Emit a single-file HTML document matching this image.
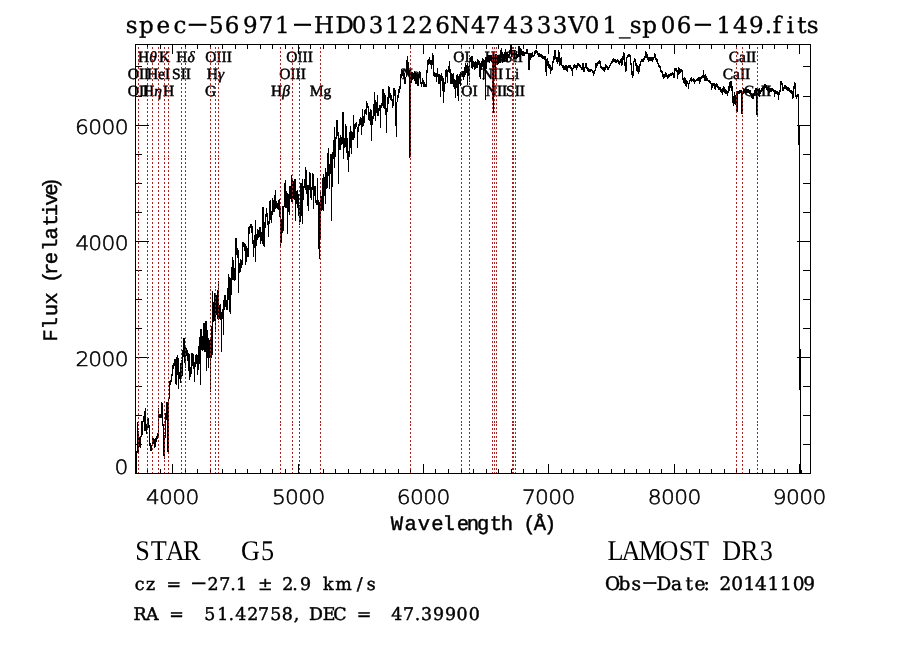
<!DOCTYPE html>
<html><head><meta charset="utf-8"><title>spec-56971-HD031226N474333V01_sp06-149.fits</title>
<style>html,body{margin:0;padding:0;background:#fff;width:900px;height:649px;overflow:hidden}svg{display:block}text{fill:#000}</style>
</head><body><svg width="900" height="649" viewBox="0 0 900 649" shape-rendering="crispEdges" text-rendering="geometricPrecision"><path d="M136 451h1v23h-1zM137 422h1v31h-1zM138 431h1v21h-1zM139 437h1v10h-1zM140 436h1v12h-1zM141 421h1v16h-1zM142 421h1v14h-1zM143 416h1v6h-1zM144 411h1v20h-1zM145 408h1v23h-1zM146 424h1v10h-1zM147 418h1v11h-1zM148 418h1v10h-1zM149 425h1v21h-1zM150 443h1v8h-1zM151 445h1v6h-1zM152 436h1v10h-1zM153 438h1v6h-1zM154 439h1v9h-1zM155 438h1v9h-1zM156 436h1v6h-1zM157 433h1v6h-1zM158 408h1v28h-1zM159 414h1v4h-1zM160 414h1v4h-1zM161 402h1v16h-1zM162 403h1v23h-1zM163 424h1v32h-1zM164 435h1v24h-1zM165 413h1v25h-1zM166 402h1v18h-1zM167 402h1v50h-1zM168 398h1v55h-1zM169 381h1v18h-1zM170 380h1v5h-1zM171 374h1v8h-1zM172 365h1v11h-1zM173 363h1v6h-1zM174 359h1v7h-1zM175 359h1v25h-1zM176 357h1v28h-1zM177 355h1v20h-1zM178 358h1v31h-1zM179 372h1v7h-1zM180 363h1v20h-1zM181 360h1v17h-1zM182 350h1v26h-1zM183 338h1v19h-1zM184 338h1v25h-1zM185 347h1v21h-1zM186 348h1v8h-1zM187 350h1v11h-1zM188 353h1v18h-1zM189 354h1v26h-1zM190 367h1v10h-1zM191 353h1v21h-1zM192 353h1v13h-1zM193 354h1v15h-1zM194 362h1v20h-1zM195 355h1v12h-1zM196 354h1v10h-1zM197 355h1v20h-1zM198 346h1v24h-1zM199 337h1v27h-1zM200 329h1v56h-1zM201 329h1v21h-1zM202 336h1v15h-1zM203 323h1v27h-1zM204 323h1v29h-1zM205 321h1v31h-1zM206 321h1v50h-1zM207 330h1v28h-1zM208 338h1v30h-1zM209 340h1v18h-1zM210 338h1v54h-1zM211 326h1v32h-1zM212 291h1v64h-1zM213 302h1v20h-1zM214 293h1v28h-1zM215 294h1v38h-1zM216 295h1v20h-1zM217 290h1v29h-1zM218 281h1v39h-1zM219 305h1v14h-1zM220 304h1v16h-1zM221 312h1v40h-1zM222 309h1v10h-1zM223 300h1v35h-1zM224 295h1v15h-1zM225 295h1v12h-1zM226 300h1v10h-1zM227 288h1v22h-1zM228 274h1v26h-1zM229 277h1v35h-1zM230 278h1v36h-1zM231 267h1v28h-1zM232 257h1v23h-1zM233 260h1v20h-1zM234 268h1v13h-1zM235 238h1v42h-1zM236 238h1v17h-1zM237 248h1v10h-1zM238 250h1v43h-1zM239 263h1v10h-1zM240 259h1v13h-1zM241 260h1v8h-1zM242 242h1v23h-1zM243 242h1v5h-1zM244 243h1v8h-1zM245 244h1v21h-1zM246 246h1v16h-1zM247 248h1v9h-1zM248 227h1v30h-1zM249 226h1v8h-1zM250 224h1v4h-1zM251 224h1v9h-1zM252 226h1v18h-1zM253 240h1v17h-1zM254 235h1v13h-1zM255 220h1v42h-1zM256 234h1v12h-1zM257 229h1v11h-1zM258 230h1v8h-1zM259 227h1v10h-1zM260 227h1v17h-1zM261 232h1v9h-1zM262 207h1v37h-1zM263 207h1v39h-1zM264 222h1v25h-1zM265 214h1v14h-1zM266 208h1v9h-1zM267 213h1v12h-1zM268 221h1v16h-1zM269 201h1v23h-1zM270 200h1v20h-1zM271 211h1v12h-1zM272 198h1v17h-1zM273 200h1v12h-1zM274 195h1v17h-1zM275 190h1v19h-1zM276 201h1v7h-1zM277 203h1v6h-1zM278 200h1v10h-1zM279 199h1v18h-1zM280 208h1v39h-1zM281 219h1v24h-1zM282 206h1v27h-1zM283 206h1v25h-1zM284 183h1v24h-1zM285 180h1v28h-1zM286 191h1v17h-1zM287 193h1v41h-1zM288 194h1v18h-1zM289 186h1v29h-1zM290 186h1v13h-1zM291 175h1v27h-1zM292 179h1v24h-1zM293 181h1v18h-1zM294 179h1v21h-1zM295 179h1v42h-1zM296 191h1v13h-1zM297 190h1v18h-1zM298 194h1v22h-1zM299 205h1v20h-1zM300 183h1v39h-1zM301 183h1v33h-1zM302 179h1v45h-1zM303 186h1v14h-1zM304 179h1v9h-1zM305 167h1v23h-1zM306 170h1v24h-1zM307 185h1v21h-1zM308 185h1v26h-1zM309 172h1v18h-1zM310 173h1v25h-1zM311 187h1v13h-1zM312 173h1v17h-1zM313 174h1v35h-1zM314 186h1v10h-1zM315 186h1v17h-1zM316 200h1v5h-1zM317 178h1v27h-1zM318 200h1v49h-1zM319 202h1v57h-1zM320 190h1v50h-1zM321 196h1v15h-1zM322 178h1v32h-1zM323 174h1v37h-1zM324 177h1v19h-1zM325 168h1v36h-1zM326 172h1v17h-1zM327 153h1v35h-1zM328 148h1v28h-1zM329 164h1v25h-1zM330 154h1v20h-1zM331 154h1v67h-1zM332 152h1v35h-1zM333 140h1v19h-1zM334 127h1v41h-1zM335 137h1v20h-1zM336 120h1v19h-1zM337 120h1v16h-1zM338 132h1v52h-1zM339 138h1v12h-1zM340 135h1v15h-1zM341 137h1v8h-1zM342 112h1v32h-1zM343 112h1v47h-1zM344 138h1v10h-1zM345 124h1v23h-1zM346 126h1v27h-1zM347 138h1v22h-1zM348 151h1v21h-1zM349 132h1v25h-1zM350 126h1v22h-1zM351 131h1v23h-1zM352 132h1v8h-1zM353 115h1v25h-1zM354 124h1v14h-1zM355 123h1v6h-1zM356 122h1v5h-1zM357 127h1v21h-1zM358 124h1v8h-1zM359 119h1v7h-1zM360 117h1v8h-1zM361 118h1v17h-1zM362 109h1v18h-1zM363 116h1v10h-1zM364 110h1v13h-1zM365 109h1v5h-1zM366 101h1v14h-1zM367 103h1v5h-1zM368 106h1v14h-1zM369 112h1v9h-1zM370 109h1v16h-1zM371 110h1v31h-1zM372 116h1v9h-1zM373 104h1v15h-1zM374 92h1v24h-1zM375 100h1v21h-1zM376 102h1v11h-1zM377 95h1v21h-1zM378 108h1v8h-1zM379 105h1v6h-1zM380 105h1v23h-1zM381 103h1v5h-1zM382 89h1v17h-1zM383 89h1v19h-1zM384 93h1v16h-1zM385 95h1v20h-1zM386 108h1v25h-1zM387 97h1v15h-1zM388 86h1v18h-1zM389 87h1v11h-1zM390 93h1v7h-1zM391 95h1v6h-1zM392 99h1v9h-1zM393 88h1v18h-1zM394 88h1v8h-1zM395 90h1v36h-1zM396 102h1v35h-1zM397 95h1v7h-1zM398 89h1v9h-1zM399 86h1v7h-1zM400 74h1v15h-1zM401 69h1v9h-1zM402 70h1v6h-1zM403 71h1v6h-1zM404 73h1v11h-1zM405 77h1v7h-1zM406 60h1v17h-1zM407 56h1v17h-1zM408 62h1v14h-1zM409 70h1v88h-1zM410 75h1v81h-1zM411 72h1v11h-1zM412 72h1v8h-1zM413 73h1v6h-1zM414 71h1v10h-1zM415 72h1v12h-1zM416 73h1v11h-1zM417 74h1v12h-1zM418 74h1v12h-1zM419 71h1v7h-1zM420 72h1v12h-1zM421 82h1v5h-1zM422 78h1v6h-1zM423 80h1v7h-1zM424 82h1v5h-1zM425 84h1v3h-1zM426 70h1v17h-1zM427 60h1v13h-1zM428 59h1v6h-1zM429 57h1v7h-1zM430 60h1v5h-1zM431 60h1v9h-1zM432 53h1v12h-1zM433 55h1v21h-1zM434 72h1v5h-1zM435 73h1v4h-1zM436 73h1v9h-1zM437 68h1v9h-1zM438 74h1v10h-1zM439 74h1v10h-1zM440 75h1v22h-1zM441 73h1v8h-1zM442 76h1v15h-1zM443 78h1v25h-1zM444 82h1v10h-1zM445 70h1v14h-1zM446 69h1v8h-1zM447 70h1v13h-1zM448 66h1v6h-1zM449 61h1v12h-1zM450 69h1v15h-1zM451 73h1v11h-1zM452 74h1v10h-1zM453 73h1v14h-1zM454 79h1v10h-1zM455 80h1v18h-1zM456 75h1v13h-1zM457 74h1v22h-1zM458 76h1v25h-1zM459 74h1v10h-1zM460 72h1v14h-1zM461 71h1v6h-1zM462 71h1v6h-1zM463 71h1v9h-1zM464 67h1v10h-1zM465 63h1v12h-1zM466 65h1v8h-1zM467 63h1v22h-1zM468 66h1v10h-1zM469 58h1v24h-1zM470 57h1v5h-1zM471 56h1v12h-1zM472 56h1v13h-1zM473 61h1v6h-1zM474 62h1v8h-1zM475 61h1v8h-1zM476 62h1v6h-1zM477 59h1v9h-1zM478 60h1v5h-1zM479 61h1v16h-1zM480 63h1v16h-1zM481 61h1v9h-1zM482 58h1v9h-1zM483 59h1v21h-1zM484 60h1v9h-1zM485 57h1v43h-1zM486 57h1v12h-1zM487 55h1v7h-1zM488 55h1v7h-1zM489 55h1v8h-1zM490 55h1v6h-1zM491 55h1v7h-1zM492 56h1v45h-1zM493 56h1v57h-1zM494 56h1v14h-1zM495 54h1v16h-1zM496 54h1v9h-1zM497 55h1v10h-1zM498 55h1v9h-1zM499 55h1v8h-1zM500 50h1v13h-1zM501 48h1v10h-1zM502 52h1v11h-1zM503 54h1v8h-1zM504 52h1v10h-1zM505 49h1v10h-1zM506 52h1v10h-1zM507 52h1v10h-1zM508 54h1v4h-1zM509 50h1v6h-1zM510 45h1v8h-1zM511 45h1v12h-1zM512 50h1v5h-1zM513 50h1v9h-1zM514 50h1v9h-1zM515 50h1v8h-1zM516 51h1v8h-1zM517 54h1v4h-1zM518 46h1v11h-1zM519 46h1v11h-1zM520 48h1v8h-1zM521 49h1v6h-1zM522 51h1v5h-1zM523 51h1v5h-1zM524 52h1v4h-1zM525 52h1v2h-1zM526 49h1v5h-1zM527 49h1v5h-1zM528 53h1v17h-1zM529 53h1v17h-1zM530 53h1v7h-1zM531 53h1v5h-1zM532 52h1v5h-1zM533 55h1v2h-1zM534 51h1v5h-1zM535 50h1v4h-1zM536 50h1v3h-1zM537 51h1v4h-1zM538 53h1v4h-1zM539 53h1v4h-1zM540 54h1v3h-1zM541 54h1v4h-1zM542 55h1v4h-1zM543 56h1v3h-1zM544 56h1v4h-1zM545 56h1v16h-1zM546 59h1v17h-1zM547 58h1v8h-1zM548 61h1v7h-1zM549 64h1v5h-1zM550 65h1v9h-1zM551 67h1v4h-1zM552 61h1v9h-1zM553 56h1v7h-1zM554 50h1v10h-1zM555 50h1v9h-1zM556 57h1v5h-1zM557 57h1v7h-1zM558 50h1v12h-1zM559 52h1v14h-1zM560 58h1v7h-1zM561 57h1v9h-1zM562 65h1v3h-1zM563 65h1v5h-1zM564 66h1v4h-1zM565 65h1v5h-1zM566 65h1v6h-1zM567 66h1v6h-1zM568 65h1v3h-1zM569 65h1v3h-1zM570 65h1v4h-1zM571 67h1v4h-1zM572 68h1v8h-1zM573 65h1v4h-1zM574 64h1v4h-1zM575 65h1v3h-1zM576 65h1v5h-1zM577 63h1v5h-1zM578 63h1v3h-1zM579 64h1v3h-1zM580 65h1v3h-1zM581 67h1v3h-1zM582 63h1v7h-1zM583 63h1v9h-1zM584 67h1v5h-1zM585 63h1v5h-1zM586 63h1v6h-1zM587 67h1v4h-1zM588 68h1v4h-1zM589 69h1v3h-1zM590 69h1v3h-1zM591 69h1v2h-1zM592 70h1v3h-1zM593 71h1v5h-1zM594 70h1v4h-1zM595 63h1v8h-1zM596 63h1v5h-1zM597 62h1v4h-1zM598 61h1v3h-1zM599 60h1v4h-1zM600 61h1v7h-1zM601 66h1v3h-1zM602 67h1v3h-1zM603 67h1v4h-1zM604 67h1v5h-1zM605 64h1v6h-1zM606 65h1v3h-1zM607 66h1v4h-1zM608 67h1v3h-1zM609 65h1v3h-1zM610 63h1v3h-1zM611 61h1v3h-1zM612 59h1v4h-1zM613 58h1v4h-1zM614 59h1v3h-1zM615 59h1v4h-1zM616 60h1v3h-1zM617 59h1v3h-1zM618 60h1v4h-1zM619 61h1v4h-1zM620 59h1v4h-1zM621 58h1v8h-1zM622 56h1v9h-1zM623 52h1v8h-1zM624 53h1v13h-1zM625 62h1v10h-1zM626 57h1v14h-1zM627 55h1v3h-1zM628 54h1v3h-1zM629 54h1v3h-1zM630 55h1v10h-1zM631 63h1v12h-1zM632 71h1v7h-1zM633 61h1v15h-1zM634 58h1v4h-1zM635 59h1v7h-1zM636 63h1v8h-1zM637 65h1v7h-1zM638 66h1v8h-1zM639 64h1v8h-1zM640 61h1v5h-1zM641 59h1v3h-1zM642 59h1v3h-1zM643 58h1v4h-1zM644 56h1v4h-1zM645 51h1v7h-1zM646 52h1v6h-1zM647 54h1v6h-1zM648 57h1v5h-1zM649 57h1v4h-1zM650 57h1v4h-1zM651 57h1v4h-1zM652 57h1v5h-1zM653 57h1v3h-1zM654 53h1v5h-1zM655 54h1v6h-1zM656 58h1v4h-1zM657 59h1v5h-1zM658 63h1v4h-1zM659 65h1v3h-1zM660 66h1v6h-1zM661 70h1v3h-1zM662 71h1v6h-1zM663 74h1v5h-1zM664 74h1v4h-1zM665 72h1v5h-1zM666 73h1v4h-1zM667 75h1v4h-1zM668 74h1v4h-1zM669 74h1v3h-1zM670 73h1v3h-1zM671 73h1v3h-1zM672 72h1v3h-1zM673 73h1v5h-1zM674 68h1v10h-1zM675 68h1v3h-1zM676 68h1v4h-1zM677 70h1v9h-1zM678 67h1v8h-1zM679 68h1v6h-1zM680 69h1v4h-1zM681 69h1v3h-1zM682 70h1v10h-1zM683 78h1v5h-1zM684 77h1v7h-1zM685 78h1v8h-1zM686 80h1v7h-1zM687 81h1v3h-1zM688 83h1v6h-1zM689 80h1v4h-1zM690 78h1v3h-1zM691 77h1v5h-1zM692 79h1v2h-1zM693 78h1v4h-1zM694 79h1v5h-1zM695 80h1v2h-1zM696 79h1v2h-1zM697 78h1v3h-1zM698 77h1v4h-1zM699 77h1v7h-1zM700 77h1v5h-1zM701 76h1v3h-1zM702 75h1v3h-1zM703 70h1v8h-1zM704 75h1v6h-1zM705 74h1v7h-1zM706 76h1v5h-1zM707 78h1v3h-1zM708 80h1v2h-1zM709 80h1v3h-1zM710 81h1v3h-1zM711 83h1v7h-1zM712 83h1v5h-1zM713 83h1v3h-1zM714 83h1v6h-1zM715 84h1v6h-1zM716 83h1v4h-1zM717 84h1v4h-1zM718 86h1v4h-1zM719 87h1v3h-1zM720 87h1v5h-1zM721 89h1v4h-1zM722 88h1v7h-1zM723 86h1v6h-1zM724 87h1v6h-1zM725 89h1v5h-1zM726 90h1v4h-1zM727 91h1v5h-1zM728 86h1v7h-1zM729 82h1v9h-1zM730 81h1v7h-1zM731 81h1v10h-1zM732 86h1v17h-1zM733 96h1v10h-1zM734 92h1v12h-1zM735 95h1v10h-1zM736 91h1v21h-1zM737 91h1v21h-1zM738 91h1v3h-1zM739 90h1v4h-1zM740 90h1v3h-1zM741 90h1v24h-1zM742 91h1v23h-1zM743 88h1v6h-1zM744 89h1v4h-1zM745 89h1v4h-1zM746 89h1v4h-1zM747 89h1v4h-1zM748 89h1v4h-1zM749 90h1v4h-1zM750 90h1v5h-1zM751 93h1v5h-1zM752 94h1v5h-1zM753 93h1v6h-1zM754 90h1v6h-1zM755 88h1v5h-1zM756 88h1v27h-1zM757 88h1v27h-1zM758 89h1v7h-1zM759 88h1v9h-1zM760 90h1v4h-1zM761 88h1v4h-1zM762 87h1v4h-1zM763 86h1v4h-1zM764 84h1v5h-1zM765 84h1v4h-1zM766 85h1v5h-1zM767 87h1v4h-1zM768 88h1v4h-1zM769 88h1v5h-1zM770 88h1v4h-1zM771 88h1v4h-1zM772 88h1v3h-1zM773 89h1v3h-1zM774 90h1v7h-1zM775 90h1v4h-1zM776 91h1v3h-1zM777 91h1v4h-1zM778 92h1v8h-1zM779 90h1v5h-1zM780 81h1v11h-1zM781 81h1v4h-1zM782 83h1v8h-1zM783 87h1v4h-1zM784 85h1v4h-1zM785 85h1v4h-1zM786 86h1v4h-1zM787 87h1v4h-1zM788 87h1v4h-1zM789 88h1v4h-1zM790 90h1v3h-1zM791 90h1v4h-1zM792 91h1v8h-1zM793 86h1v12h-1zM794 82h1v7h-1zM795 83h1v14h-1zM796 95h1v4h-1zM797 94h1v3h-1zM798 94h1v51h-1zM799 125h1v265h-1zM800 349h1v125h-1zM801 470h1v3h-1z" fill="#000"/><rect x="135" y="44" width="676" height="1" fill="#000"/><rect x="135" y="473" width="676" height="1" fill="#000"/><rect x="135" y="44" width="1" height="430" fill="#000"/><rect x="810" y="44" width="1" height="430" fill="#000"/><rect x="147" y="469" width="1" height="4" fill="#000"/><rect x="147" y="45" width="1" height="4" fill="#000"/><rect x="160" y="469" width="1" height="4" fill="#000"/><rect x="160" y="45" width="1" height="4" fill="#000"/><rect x="172" y="464" width="1" height="9" fill="#000"/><rect x="172" y="45" width="1" height="9" fill="#000"/><rect x="185" y="469" width="1" height="4" fill="#000"/><rect x="185" y="45" width="1" height="4" fill="#000"/><rect x="197" y="469" width="1" height="4" fill="#000"/><rect x="197" y="45" width="1" height="4" fill="#000"/><rect x="210" y="469" width="1" height="4" fill="#000"/><rect x="210" y="45" width="1" height="4" fill="#000"/><rect x="222" y="469" width="1" height="4" fill="#000"/><rect x="222" y="45" width="1" height="4" fill="#000"/><rect x="235" y="469" width="1" height="4" fill="#000"/><rect x="235" y="45" width="1" height="4" fill="#000"/><rect x="247" y="469" width="1" height="4" fill="#000"/><rect x="247" y="45" width="1" height="4" fill="#000"/><rect x="260" y="469" width="1" height="4" fill="#000"/><rect x="260" y="45" width="1" height="4" fill="#000"/><rect x="272" y="469" width="1" height="4" fill="#000"/><rect x="272" y="45" width="1" height="4" fill="#000"/><rect x="285" y="469" width="1" height="4" fill="#000"/><rect x="285" y="45" width="1" height="4" fill="#000"/><rect x="298" y="464" width="1" height="9" fill="#000"/><rect x="298" y="45" width="1" height="9" fill="#000"/><rect x="310" y="469" width="1" height="4" fill="#000"/><rect x="310" y="45" width="1" height="4" fill="#000"/><rect x="323" y="469" width="1" height="4" fill="#000"/><rect x="323" y="45" width="1" height="4" fill="#000"/><rect x="335" y="469" width="1" height="4" fill="#000"/><rect x="335" y="45" width="1" height="4" fill="#000"/><rect x="348" y="469" width="1" height="4" fill="#000"/><rect x="348" y="45" width="1" height="4" fill="#000"/><rect x="360" y="469" width="1" height="4" fill="#000"/><rect x="360" y="45" width="1" height="4" fill="#000"/><rect x="373" y="469" width="1" height="4" fill="#000"/><rect x="373" y="45" width="1" height="4" fill="#000"/><rect x="385" y="469" width="1" height="4" fill="#000"/><rect x="385" y="45" width="1" height="4" fill="#000"/><rect x="398" y="469" width="1" height="4" fill="#000"/><rect x="398" y="45" width="1" height="4" fill="#000"/><rect x="410" y="469" width="1" height="4" fill="#000"/><rect x="410" y="45" width="1" height="4" fill="#000"/><rect x="423" y="464" width="1" height="9" fill="#000"/><rect x="423" y="45" width="1" height="9" fill="#000"/><rect x="435" y="469" width="1" height="4" fill="#000"/><rect x="435" y="45" width="1" height="4" fill="#000"/><rect x="448" y="469" width="1" height="4" fill="#000"/><rect x="448" y="45" width="1" height="4" fill="#000"/><rect x="461" y="469" width="1" height="4" fill="#000"/><rect x="461" y="45" width="1" height="4" fill="#000"/><rect x="473" y="469" width="1" height="4" fill="#000"/><rect x="473" y="45" width="1" height="4" fill="#000"/><rect x="486" y="469" width="1" height="4" fill="#000"/><rect x="486" y="45" width="1" height="4" fill="#000"/><rect x="498" y="469" width="1" height="4" fill="#000"/><rect x="498" y="45" width="1" height="4" fill="#000"/><rect x="511" y="469" width="1" height="4" fill="#000"/><rect x="511" y="45" width="1" height="4" fill="#000"/><rect x="523" y="469" width="1" height="4" fill="#000"/><rect x="523" y="45" width="1" height="4" fill="#000"/><rect x="536" y="469" width="1" height="4" fill="#000"/><rect x="536" y="45" width="1" height="4" fill="#000"/><rect x="548" y="464" width="1" height="9" fill="#000"/><rect x="548" y="45" width="1" height="9" fill="#000"/><rect x="561" y="469" width="1" height="4" fill="#000"/><rect x="561" y="45" width="1" height="4" fill="#000"/><rect x="573" y="469" width="1" height="4" fill="#000"/><rect x="573" y="45" width="1" height="4" fill="#000"/><rect x="586" y="469" width="1" height="4" fill="#000"/><rect x="586" y="45" width="1" height="4" fill="#000"/><rect x="598" y="469" width="1" height="4" fill="#000"/><rect x="598" y="45" width="1" height="4" fill="#000"/><rect x="611" y="469" width="1" height="4" fill="#000"/><rect x="611" y="45" width="1" height="4" fill="#000"/><rect x="624" y="469" width="1" height="4" fill="#000"/><rect x="624" y="45" width="1" height="4" fill="#000"/><rect x="636" y="469" width="1" height="4" fill="#000"/><rect x="636" y="45" width="1" height="4" fill="#000"/><rect x="649" y="469" width="1" height="4" fill="#000"/><rect x="649" y="45" width="1" height="4" fill="#000"/><rect x="661" y="469" width="1" height="4" fill="#000"/><rect x="661" y="45" width="1" height="4" fill="#000"/><rect x="674" y="464" width="1" height="9" fill="#000"/><rect x="674" y="45" width="1" height="9" fill="#000"/><rect x="686" y="469" width="1" height="4" fill="#000"/><rect x="686" y="45" width="1" height="4" fill="#000"/><rect x="699" y="469" width="1" height="4" fill="#000"/><rect x="699" y="45" width="1" height="4" fill="#000"/><rect x="711" y="469" width="1" height="4" fill="#000"/><rect x="711" y="45" width="1" height="4" fill="#000"/><rect x="724" y="469" width="1" height="4" fill="#000"/><rect x="724" y="45" width="1" height="4" fill="#000"/><rect x="736" y="469" width="1" height="4" fill="#000"/><rect x="736" y="45" width="1" height="4" fill="#000"/><rect x="749" y="469" width="1" height="4" fill="#000"/><rect x="749" y="45" width="1" height="4" fill="#000"/><rect x="762" y="469" width="1" height="4" fill="#000"/><rect x="762" y="45" width="1" height="4" fill="#000"/><rect x="774" y="469" width="1" height="4" fill="#000"/><rect x="774" y="45" width="1" height="4" fill="#000"/><rect x="787" y="469" width="1" height="4" fill="#000"/><rect x="787" y="45" width="1" height="4" fill="#000"/><rect x="799" y="464" width="1" height="9" fill="#000"/><rect x="799" y="45" width="1" height="9" fill="#000"/><rect x="136" y="444" width="6" height="1" fill="#000"/><rect x="803" y="444" width="7" height="1" fill="#000"/><rect x="136" y="415" width="6" height="1" fill="#000"/><rect x="803" y="415" width="7" height="1" fill="#000"/><rect x="136" y="386" width="6" height="1" fill="#000"/><rect x="803" y="386" width="7" height="1" fill="#000"/><rect x="136" y="357" width="13" height="1" fill="#000"/><rect x="797" y="357" width="13" height="1" fill="#000"/><rect x="136" y="328" width="6" height="1" fill="#000"/><rect x="803" y="328" width="7" height="1" fill="#000"/><rect x="136" y="299" width="6" height="1" fill="#000"/><rect x="803" y="299" width="7" height="1" fill="#000"/><rect x="136" y="270" width="6" height="1" fill="#000"/><rect x="803" y="270" width="7" height="1" fill="#000"/><rect x="136" y="241" width="13" height="1" fill="#000"/><rect x="797" y="241" width="13" height="1" fill="#000"/><rect x="136" y="212" width="6" height="1" fill="#000"/><rect x="803" y="212" width="7" height="1" fill="#000"/><rect x="136" y="183" width="6" height="1" fill="#000"/><rect x="803" y="183" width="7" height="1" fill="#000"/><rect x="136" y="154" width="6" height="1" fill="#000"/><rect x="803" y="154" width="7" height="1" fill="#000"/><rect x="136" y="125" width="13" height="1" fill="#000"/><rect x="797" y="125" width="13" height="1" fill="#000"/><rect x="136" y="96" width="6" height="1" fill="#000"/><rect x="803" y="96" width="7" height="1" fill="#000"/><rect x="136" y="66" width="6" height="1" fill="#000"/><rect x="803" y="66" width="7" height="1" fill="#000"/><text x="132.83 144.55 156.55 168.55" y="504" font-family='"DejaVu Sans", sans-serif' font-size="19.8" font-weight="200" transform="scale(1.1 1)" stroke="#000" stroke-width="0.55">4000</text><text x="247.19 259.10 271.10 283.10" y="504" font-family='"DejaVu Sans", sans-serif' font-size="19.8" font-weight="200" transform="scale(1.1 1)" stroke="#000" stroke-width="0.55">5000</text><text x="360.60 372.74 384.74 396.74" y="504" font-family='"DejaVu Sans", sans-serif' font-size="19.8" font-weight="200" transform="scale(1.1 1)" stroke="#000" stroke-width="0.55">6000</text><text x="474.62 486.37 498.37 510.37" y="504" font-family='"DejaVu Sans", sans-serif' font-size="19.8" font-weight="200" transform="scale(1.1 1)" stroke="#000" stroke-width="0.55">7000</text><text x="588.89 600.92 612.92 624.92" y="504" font-family='"DejaVu Sans", sans-serif' font-size="19.8" font-weight="200" transform="scale(1.1 1)" stroke="#000" stroke-width="0.55">8000</text><text x="702.42 714.55 726.55 738.55" y="504" font-family='"DejaVu Sans", sans-serif' font-size="19.8" font-weight="200" transform="scale(1.1 1)" stroke="#000" stroke-width="0.55">9000</text><text x="104.19" y="474" font-family='"DejaVu Sans", sans-serif' font-size="19.8" font-weight="200" transform="scale(1.1 1)" stroke="#000" stroke-width="0.55">0</text><text x="68.55 80.28 92.28 104.28" y="366" font-family='"DejaVu Sans", sans-serif' font-size="19.8" font-weight="200" transform="scale(1.1 1)" stroke="#000" stroke-width="0.55">2000</text><text x="68.56 80.28 92.28 104.28" y="250" font-family='"DejaVu Sans", sans-serif' font-size="19.8" font-weight="200" transform="scale(1.1 1)" stroke="#000" stroke-width="0.55">4000</text><text x="68.15 80.28 92.28 104.28" y="134" font-family='"DejaVu Sans", sans-serif' font-size="19.8" font-weight="200" transform="scale(1.1 1)" stroke="#000" stroke-width="0.55">6000</text><text x="138.5" y="96" font-family='"Liberation Serif", serif' font-size="15.5" text-anchor="middle" stroke="#000" stroke-width="0.5">OII</text><text x="138.5" y="79" font-family='"Liberation Serif", serif' font-size="15.5" text-anchor="middle" stroke="#000" stroke-width="0.5">OII</text><text x="147.5" y="62" font-family='"Liberation Serif", serif' font-size="15.5" text-anchor="middle" stroke="#000" stroke-width="0.5">H<tspan font-style="italic">θ</tspan></text><text x="152.5" y="96" font-family='"Liberation Serif", serif' font-size="15.5" text-anchor="middle" stroke="#000" stroke-width="0.5">H<tspan font-style="italic">η</tspan></text><text x="158.5" y="79" font-family='"Liberation Serif", serif' font-size="15.5" text-anchor="middle" stroke="#000" stroke-width="0.5">HeI</text><text x="164.5" y="62" font-family='"Liberation Serif", serif' font-size="15.5" text-anchor="middle" stroke="#000" stroke-width="0.5">K</text><text x="168.5" y="96" font-family='"Liberation Serif", serif' font-size="15.5" text-anchor="middle" stroke="#000" stroke-width="0.5">H</text><text x="181.5" y="79" font-family='"Liberation Serif", serif' font-size="15.5" text-anchor="middle" stroke="#000" stroke-width="0.5">SII</text><text x="185.5" y="62" font-family='"Liberation Serif", serif' font-size="15.5" text-anchor="middle" stroke="#000" stroke-width="0.5">H<tspan font-style="italic">δ</tspan></text><text x="210.5" y="96" font-family='"Liberation Serif", serif' font-size="15.5" text-anchor="middle" stroke="#000" stroke-width="0.5">G</text><text x="215.5" y="79" font-family='"Liberation Serif", serif' font-size="15.5" text-anchor="middle" stroke="#000" stroke-width="0.5">H<tspan font-style="italic">γ</tspan></text><text x="218.5" y="62" font-family='"Liberation Serif", serif' font-size="15.5" text-anchor="middle" stroke="#000" stroke-width="0.5">OIII</text><text x="280.5" y="96" font-family='"Liberation Serif", serif' font-size="15.5" text-anchor="middle" stroke="#000" stroke-width="0.5">H<tspan font-style="italic">β</tspan></text><text x="292.5" y="79" font-family='"Liberation Serif", serif' font-size="15.5" text-anchor="middle" stroke="#000" stroke-width="0.5">OIII</text><text x="299.5" y="62" font-family='"Liberation Serif", serif' font-size="15.5" text-anchor="middle" stroke="#000" stroke-width="0.5">OIII</text><text x="320.5" y="96" font-family='"Liberation Serif", serif' font-size="15.5" text-anchor="middle" stroke="#000" stroke-width="0.5">Mg</text><text x="410.5" y="79" font-family='"Liberation Serif", serif' font-size="15.5" text-anchor="middle" stroke="#000" stroke-width="0.5">Na</text><text x="461.5" y="62" font-family='"Liberation Serif", serif' font-size="15.5" text-anchor="middle" stroke="#000" stroke-width="0.5">OI</text><text x="469.5" y="96" font-family='"Liberation Serif", serif' font-size="15.5" text-anchor="middle" stroke="#000" stroke-width="0.5">OI</text><text x="492.5" y="79" font-family='"Liberation Serif", serif' font-size="15.5" text-anchor="middle" stroke="#000" stroke-width="0.5">NII</text><text x="494.5" y="62" font-family='"Liberation Serif", serif' font-size="15.5" text-anchor="middle" stroke="#000" stroke-width="0.5">H<tspan font-style="italic">α</tspan></text><text x="496.5" y="96" font-family='"Liberation Serif", serif' font-size="15.5" text-anchor="middle" stroke="#000" stroke-width="0.5">NII</text><text x="512.5" y="79" font-family='"Liberation Serif", serif' font-size="15.5" text-anchor="middle" stroke="#000" stroke-width="0.5">Li</text><text x="513.5" y="62" font-family='"Liberation Serif", serif' font-size="15.5" text-anchor="middle" stroke="#000" stroke-width="0.5">SII</text><text x="515.5" y="96" font-family='"Liberation Serif", serif' font-size="15.5" text-anchor="middle" stroke="#000" stroke-width="0.5">SII</text><text x="736.5" y="79" font-family='"Liberation Serif", serif' font-size="15.5" text-anchor="middle" stroke="#000" stroke-width="0.5">CaII</text><text x="742.5" y="62" font-family='"Liberation Serif", serif' font-size="15.5" text-anchor="middle" stroke="#000" stroke-width="0.5">CaII</text><text x="757.5" y="96" font-family='"Liberation Serif", serif' font-size="15.5" text-anchor="middle" stroke="#000" stroke-width="0.5">CaII</text><text x="125.74 138.89 156.49 173.51" y="32.6" font-family='"DejaVu Serif", serif' font-size="23" font-weight="normal" stroke="#000" stroke-width="0.35">spec</text><text x="208.89 224.64 243.03 258.55 274.91" y="32.6" font-family='"DejaVu Serif", serif' font-size="23" font-weight="normal" stroke="#000" stroke-width="0.35">56971</text><text x="313.97 335.51 351.69 368.66 385.21 402.03 418.33 435.34 449.88 470.91 485.85 503.21 519.36 536.66 552.66 568.34 584.69 602.61 618.95 629.74 642.19 660.69 676.64" y="32.6" font-family='"DejaVu Serif", serif' font-size="23" font-weight="normal" stroke="#000" stroke-width="0.35">HD031226N474333V01_sp06</text><text x="716.61 732.91 749.03 764.64 772.64 786.87 797.14 806.74" y="32.6" font-family='"DejaVu Serif", serif' font-size="23" font-weight="normal" stroke="#000" stroke-width="0.35">149.fits</text><text x="186.36" y="30.87" font-family='"DejaVu Serif", serif' font-size="23" textLength="22.57" lengthAdjust="spacingAndGlyphs" stroke="#000" stroke-width="0.35">-</text><text x="291.89" y="30.87" font-family='"DejaVu Serif", serif' font-size="23" textLength="21.62" lengthAdjust="spacingAndGlyphs" stroke="#000" stroke-width="0.35">-</text><text x="692.59" y="30.87" font-family='"DejaVu Serif", serif' font-size="23" textLength="20.81" lengthAdjust="spacingAndGlyphs" stroke="#000" stroke-width="0.35">-</text><text x="390.85 404.55 417.85 431.36 442.58 456.86 466.85 477.01 489.66 500.82" y="529.5" font-family='"Liberation Mono", monospace' font-size="20.5" font-weight="normal" stroke="#000" stroke-width="0.45">Wavelength</text><text x="523.33 533.85 543.89" y="529.5" font-family='"Liberation Mono", monospace' font-size="20.5" font-weight="normal" stroke="#000" stroke-width="0.45">(Å)</text><g transform="translate(56.8,341) rotate(-90)"><text x="-0.40 11.58 24.79 36.56" y="0" font-family='"Liberation Mono", monospace' font-size="20.5" font-weight="normal" stroke="#000" stroke-width="0.45">Flux</text><text x="58.03 66.06 76.86 90.08 101.55 114.46 124.65 135.15 145.36 151.89" y="0" font-family='"Liberation Mono", monospace' font-size="20.5" font-weight="normal" stroke="#000" stroke-width="0.45">(relative)</text></g><text x="146.90 163.99 180.22 199.02" y="560" font-family='"Liberation Serif", serif' font-size="28.5" font-weight="normal" transform="scale(0.92 1)">STAR</text><text x="261.85 283.69" y="560" font-family='"Liberation Serif", serif' font-size="28.5" font-weight="normal" transform="scale(0.92 1)">G5</text><text x="660.22 675.54 694.40 716.88 737.66 753.23" y="560" font-family='"Liberation Serif", serif' font-size="28.5" font-weight="normal" transform="scale(0.92 1)">LAMOST</text><text x="784.98 805.32 825.90" y="560" font-family='"Liberation Serif", serif' font-size="28.5" font-weight="normal" transform="scale(0.92 1)">DR3</text><text x="134.84 145.99" y="589.5" font-family='"DejaVu Serif", serif' font-size="17.4" font-weight="normal" stroke="#000" stroke-width="0.45">cz</text><text x="166.41" y="589.5" font-family='"DejaVu Serif", serif' font-size="17.4" font-weight="normal" stroke="#000" stroke-width="0.45">=</text><text x="190.64" y="587.96" font-family='"DejaVu Serif", serif' font-size="17.4" textLength="16.62" lengthAdjust="spacingAndGlyphs" stroke="#000" stroke-width="0.45">-</text><text x="207.43 219.36 230.13 235.89" y="589.5" font-family='"DejaVu Serif", serif' font-size="17.4" font-weight="normal" stroke="#000" stroke-width="0.45">27.1</text><text x="258.11" y="589.5" font-family='"DejaVu Serif", serif' font-size="17.4" font-weight="normal" stroke="#000" stroke-width="0.45">±</text><text x="282.13 292.23 300.00" y="589.5" font-family='"DejaVu Serif", serif' font-size="17.4" font-weight="normal" stroke="#000" stroke-width="0.45">2.9</text><text x="322.92 335.37 356.67 366.69" y="589.5" font-family='"DejaVu Serif", serif' font-size="17.4" font-weight="normal" stroke="#000" stroke-width="0.45">km/s</text><text x="605.11 618.58 631.51" y="590" font-family='"DejaVu Serif", serif' font-size="18.5" font-weight="normal" stroke="#000" stroke-width="0.45">Obs</text><text x="641.89" y="588.26" font-family='"DejaVu Serif", serif' font-size="18.5" textLength="16.22" lengthAdjust="spacingAndGlyphs" stroke="#000" stroke-width="0.45">-</text><text x="656.61 670.99 685.39 694.53 703.57" y="590" font-family='"DejaVu Serif", serif' font-size="18.5" font-weight="normal" stroke="#000" stroke-width="0.45">Date:</text><text x="719.39 731.32 743.40 755.00 767.50 780.10 792.72 803.16" y="590" font-family='"DejaVu Serif", serif' font-size="18.5" font-weight="normal" stroke="#000" stroke-width="0.45">20141109</text><text x="133.56 146.08" y="619.5" font-family='"DejaVu Serif", serif' font-size="17.4" font-weight="normal" stroke="#000" stroke-width="0.45">RA</text><text x="169.21" y="619.5" font-family='"DejaVu Serif", serif' font-size="17.4" font-weight="normal" stroke="#000" stroke-width="0.45">=</text><text x="204.20 217.14 228.43 235.13 247.13 257.96 270.30 281.87 293.86" y="619.5" font-family='"DejaVu Serif", serif' font-size="17.4" font-weight="normal" stroke="#000" stroke-width="0.45">51.42758,</text><text x="308.95 322.87 333.18" y="619.5" font-family='"DejaVu Serif", serif' font-size="17.4" font-weight="normal" stroke="#000" stroke-width="0.45">DEC</text><text x="356.71" y="619.5" font-family='"DejaVu Serif", serif' font-size="17.4" font-weight="normal" stroke="#000" stroke-width="0.45">=</text><text x="391.13 403.06 414.83 420.95 433.00 444.90 456.47 468.77" y="619.5" font-family='"DejaVu Serif", serif' font-size="17.4" font-weight="normal" stroke="#000" stroke-width="0.45">47.39900</text><path d="M138.5 47v2m0 2v2m0 2v2m0 2v2m0 2v2m0 2v2m0 2v2m0 2v2m0 2v2m0 2v2m0 2v2m0 2v2m0 2v2m0 2v2m0 2v2m0 2v2m0 2v2m0 2v2m0 2v2m0 2v2m0 2v2m0 2v2m0 2v2m0 2v2m0 2v2m0 2v2m0 2v2m0 2v2m0 1v2m0 2v2m0 2v2m0 2v2m0 2v2m0 2v2m0 2v2m0 2v2m0 2v2m0 2v2m0 2v2m0 2v2m0 2v2m0 2v2m0 2v2m0 2v2m0 2v2m0 2v2m0 2v2m0 2v2m0 2v2m0 2v2m0 2v2m0 2v2m0 2v2m0 2v2m0 2v2m0 2v2m0 2v2m0 2v2m0 2v2m0 2v2m0 2v2m0 1v2m0 2v2m0 2v2m0 2v2m0 2v2m0 2v2m0 2v2m0 2v2m0 2v2m0 2v2m0 2v2m0 2v2m0 2v2m0 2v2m0 2v2m0 2v2m0 2v2m0 2v2m0 2v2m0 2v2m0 2v2m0 2v2m0 2v2m0 2v2m0 2v2m0 2v2m0 2v2m0 2v2m0 2v2m0 2v2m0 2v2m0 2v2m0 2v2m0 2v2m0 1v2m0 2v2m0 2v2m0 2v2m0 2v2m0 2v2m0 2v2m0 2v2m0 2v2m0 2v2m0 2v2m0 2v2m0 2v1M147.5 47v2m0 2v2m0 2v2m0 2v2m0 2v2m0 2v2m0 2v2m0 2v2m0 2v2m0 2v2m0 2v2m0 2v2m0 2v2m0 2v2m0 2v2m0 2v2m0 2v2m0 2v2m0 2v2m0 2v2m0 2v2m0 2v2m0 2v2m0 2v2m0 2v2m0 2v2m0 2v2m0 2v2m0 1v2m0 2v2m0 2v2m0 2v2m0 2v2m0 2v2m0 2v2m0 2v2m0 2v2m0 2v2m0 2v2m0 2v2m0 2v2m0 2v2m0 2v2m0 2v2m0 2v2m0 2v2m0 2v2m0 2v2m0 2v2m0 2v2m0 2v2m0 2v2m0 2v2m0 2v2m0 2v2m0 2v2m0 2v2m0 2v2m0 2v2m0 2v2m0 2v2m0 1v2m0 2v2m0 2v2m0 2v2m0 2v2m0 2v2m0 2v2m0 2v2m0 2v2m0 2v2m0 2v2m0 2v2m0 2v2m0 2v2m0 2v2m0 2v2m0 2v2m0 2v2m0 2v2m0 2v2m0 2v2m0 2v2m0 2v2m0 2v2m0 2v2m0 2v2m0 2v2m0 2v2m0 2v2m0 2v2m0 2v2m0 2v2m0 2v2m0 2v2m0 1v2m0 2v2m0 2v2m0 2v2m0 2v2m0 2v2m0 2v2m0 2v2m0 2v2m0 2v2m0 2v2m0 2v2m0 2v1M152.5 47v2m0 2v2m0 2v2m0 2v2m0 2v2m0 2v2m0 2v2m0 2v2m0 2v2m0 2v2m0 2v2m0 2v2m0 2v2m0 2v2m0 2v2m0 2v2m0 2v2m0 2v2m0 2v2m0 2v2m0 2v2m0 2v2m0 2v2m0 2v2m0 2v2m0 2v2m0 2v2m0 2v2m0 1v2m0 2v2m0 2v2m0 2v2m0 2v2m0 2v2m0 2v2m0 2v2m0 2v2m0 2v2m0 2v2m0 2v2m0 2v2m0 2v2m0 2v2m0 2v2m0 2v2m0 2v2m0 2v2m0 2v2m0 2v2m0 2v2m0 2v2m0 2v2m0 2v2m0 2v2m0 2v2m0 2v2m0 2v2m0 2v2m0 2v2m0 2v2m0 2v2m0 1v2m0 2v2m0 2v2m0 2v2m0 2v2m0 2v2m0 2v2m0 2v2m0 2v2m0 2v2m0 2v2m0 2v2m0 2v2m0 2v2m0 2v2m0 2v2m0 2v2m0 2v2m0 2v2m0 2v2m0 2v2m0 2v2m0 2v2m0 2v2m0 2v2m0 2v2m0 2v2m0 2v2m0 2v2m0 2v2m0 2v2m0 2v2m0 2v2m0 2v2m0 1v2m0 2v2m0 2v2m0 2v2m0 2v2m0 2v2m0 2v2m0 2v2m0 2v2m0 2v2m0 2v2m0 2v2m0 2v1M158.5 47v2m0 2v2m0 2v2m0 2v2m0 2v2m0 2v2m0 2v2m0 2v2m0 2v2m0 2v2m0 2v2m0 2v2m0 2v2m0 2v2m0 2v2m0 2v2m0 2v2m0 2v2m0 2v2m0 2v2m0 2v2m0 2v2m0 2v2m0 2v2m0 2v2m0 2v2m0 2v2m0 2v2m0 1v2m0 2v2m0 2v2m0 2v2m0 2v2m0 2v2m0 2v2m0 2v2m0 2v2m0 2v2m0 2v2m0 2v2m0 2v2m0 2v2m0 2v2m0 2v2m0 2v2m0 2v2m0 2v2m0 2v2m0 2v2m0 2v2m0 2v2m0 2v2m0 2v2m0 2v2m0 2v2m0 2v2m0 2v2m0 2v2m0 2v2m0 2v2m0 2v2m0 1v2m0 2v2m0 2v2m0 2v2m0 2v2m0 2v2m0 2v2m0 2v2m0 2v2m0 2v2m0 2v2m0 2v2m0 2v2m0 2v2m0 2v2m0 2v2m0 2v2m0 2v2m0 2v2m0 2v2m0 2v2m0 2v2m0 2v2m0 2v2m0 2v2m0 2v2m0 2v2m0 2v2m0 2v2m0 2v2m0 2v2m0 2v2m0 2v2m0 2v2m0 1v2m0 2v2m0 2v2m0 2v2m0 2v2m0 2v2m0 2v2m0 2v2m0 2v2m0 2v2m0 2v2m0 2v2m0 2v1M164.5 47v2m0 2v2m0 2v2m0 2v2m0 2v2m0 2v2m0 2v2m0 2v2m0 2v2m0 2v2m0 2v2m0 2v2m0 2v2m0 2v2m0 2v2m0 2v2m0 2v2m0 2v2m0 2v2m0 2v2m0 2v2m0 2v2m0 2v2m0 2v2m0 2v2m0 2v2m0 2v2m0 2v2m0 1v2m0 2v2m0 2v2m0 2v2m0 2v2m0 2v2m0 2v2m0 2v2m0 2v2m0 2v2m0 2v2m0 2v2m0 2v2m0 2v2m0 2v2m0 2v2m0 2v2m0 2v2m0 2v2m0 2v2m0 2v2m0 2v2m0 2v2m0 2v2m0 2v2m0 2v2m0 2v2m0 2v2m0 2v2m0 2v2m0 2v2m0 2v2m0 2v2m0 1v2m0 2v2m0 2v2m0 2v2m0 2v2m0 2v2m0 2v2m0 2v2m0 2v2m0 2v2m0 2v2m0 2v2m0 2v2m0 2v2m0 2v2m0 2v2m0 2v2m0 2v2m0 2v2m0 2v2m0 2v2m0 2v2m0 2v2m0 2v2m0 2v2m0 2v2m0 2v2m0 2v2m0 2v2m0 2v2m0 2v2m0 2v2m0 2v2m0 2v2m0 1v2m0 2v2m0 2v2m0 2v2m0 2v2m0 2v2m0 2v2m0 2v2m0 2v2m0 2v2m0 2v2m0 2v2m0 2v1M168.5 47v2m0 2v2m0 2v2m0 2v2m0 2v2m0 2v2m0 2v2m0 2v2m0 2v2m0 2v2m0 2v2m0 2v2m0 2v2m0 2v2m0 2v2m0 2v2m0 2v2m0 2v2m0 2v2m0 2v2m0 2v2m0 2v2m0 2v2m0 2v2m0 2v2m0 2v2m0 2v2m0 2v2m0 1v2m0 2v2m0 2v2m0 2v2m0 2v2m0 2v2m0 2v2m0 2v2m0 2v2m0 2v2m0 2v2m0 2v2m0 2v2m0 2v2m0 2v2m0 2v2m0 2v2m0 2v2m0 2v2m0 2v2m0 2v2m0 2v2m0 2v2m0 2v2m0 2v2m0 2v2m0 2v2m0 2v2m0 2v2m0 2v2m0 2v2m0 2v2m0 2v2m0 1v2m0 2v2m0 2v2m0 2v2m0 2v2m0 2v2m0 2v2m0 2v2m0 2v2m0 2v2m0 2v2m0 2v2m0 2v2m0 2v2m0 2v2m0 2v2m0 2v2m0 2v2m0 2v2m0 2v2m0 2v2m0 2v2m0 2v2m0 2v2m0 2v2m0 2v2m0 2v2m0 2v2m0 2v2m0 2v2m0 2v2m0 2v2m0 2v2m0 2v2m0 1v2m0 2v2m0 2v2m0 2v2m0 2v2m0 2v2m0 2v2m0 2v2m0 2v2m0 2v2m0 2v2m0 2v2m0 2v1M181.5 47v2m0 2v2m0 2v2m0 2v2m0 2v2m0 2v2m0 2v2m0 2v2m0 2v2m0 2v2m0 2v2m0 2v2m0 2v2m0 2v2m0 2v2m0 2v2m0 2v2m0 2v2m0 2v2m0 2v2m0 2v2m0 2v2m0 2v2m0 2v2m0 2v2m0 2v2m0 2v2m0 2v2m0 1v2m0 2v2m0 2v2m0 2v2m0 2v2m0 2v2m0 2v2m0 2v2m0 2v2m0 2v2m0 2v2m0 2v2m0 2v2m0 2v2m0 2v2m0 2v2m0 2v2m0 2v2m0 2v2m0 2v2m0 2v2m0 2v2m0 2v2m0 2v2m0 2v2m0 2v2m0 2v2m0 2v2m0 2v2m0 2v2m0 2v2m0 2v2m0 2v2m0 1v2m0 2v2m0 2v2m0 2v2m0 2v2m0 2v2m0 2v2m0 2v2m0 2v2m0 2v2m0 2v2m0 2v2m0 2v2m0 2v2m0 2v2m0 2v2m0 2v2m0 2v2m0 2v2m0 2v2m0 2v2m0 2v2m0 2v2m0 2v2m0 2v2m0 2v2m0 2v2m0 2v2m0 2v2m0 2v2m0 2v2m0 2v2m0 2v2m0 2v2m0 1v2m0 2v2m0 2v2m0 2v2m0 2v2m0 2v2m0 2v2m0 2v2m0 2v2m0 2v2m0 2v2m0 2v2m0 2v1M185.5 47v2m0 2v2m0 2v2m0 2v2m0 2v2m0 2v2m0 2v2m0 2v2m0 2v2m0 2v2m0 2v2m0 2v2m0 2v2m0 2v2m0 2v2m0 2v2m0 2v2m0 2v2m0 2v2m0 2v2m0 2v2m0 2v2m0 2v2m0 2v2m0 2v2m0 2v2m0 2v2m0 2v2m0 1v2m0 2v2m0 2v2m0 2v2m0 2v2m0 2v2m0 2v2m0 2v2m0 2v2m0 2v2m0 2v2m0 2v2m0 2v2m0 2v2m0 2v2m0 2v2m0 2v2m0 2v2m0 2v2m0 2v2m0 2v2m0 2v2m0 2v2m0 2v2m0 2v2m0 2v2m0 2v2m0 2v2m0 2v2m0 2v2m0 2v2m0 2v2m0 2v2m0 1v2m0 2v2m0 2v2m0 2v2m0 2v2m0 2v2m0 2v2m0 2v2m0 2v2m0 2v2m0 2v2m0 2v2m0 2v2m0 2v2m0 2v2m0 2v2m0 2v2m0 2v2m0 2v2m0 2v2m0 2v2m0 2v2m0 2v2m0 2v2m0 2v2m0 2v2m0 2v2m0 2v2m0 2v2m0 2v2m0 2v2m0 2v2m0 2v2m0 2v2m0 1v2m0 2v2m0 2v2m0 2v2m0 2v2m0 2v2m0 2v2m0 2v2m0 2v2m0 2v2m0 2v2m0 2v2m0 2v1M210.5 47v2m0 2v2m0 2v2m0 2v2m0 2v2m0 2v2m0 2v2m0 2v2m0 2v2m0 2v2m0 2v2m0 2v2m0 2v2m0 2v2m0 2v2m0 2v2m0 2v2m0 2v2m0 2v2m0 2v2m0 2v2m0 2v2m0 2v2m0 2v2m0 2v2m0 2v2m0 2v2m0 2v2m0 1v2m0 2v2m0 2v2m0 2v2m0 2v2m0 2v2m0 2v2m0 2v2m0 2v2m0 2v2m0 2v2m0 2v2m0 2v2m0 2v2m0 2v2m0 2v2m0 2v2m0 2v2m0 2v2m0 2v2m0 2v2m0 2v2m0 2v2m0 2v2m0 2v2m0 2v2m0 2v2m0 2v2m0 2v2m0 2v2m0 2v2m0 2v2m0 2v2m0 1v2m0 2v2m0 2v2m0 2v2m0 2v2m0 2v2m0 2v2m0 2v2m0 2v2m0 2v2m0 2v2m0 2v2m0 2v2m0 2v2m0 2v2m0 2v2m0 2v2m0 2v2m0 2v2m0 2v2m0 2v2m0 2v2m0 2v2m0 2v2m0 2v2m0 2v2m0 2v2m0 2v2m0 2v2m0 2v2m0 2v2m0 2v2m0 2v2m0 2v2m0 1v2m0 2v2m0 2v2m0 2v2m0 2v2m0 2v2m0 2v2m0 2v2m0 2v2m0 2v2m0 2v2m0 2v2m0 2v1M215.5 47v2m0 2v2m0 2v2m0 2v2m0 2v2m0 2v2m0 2v2m0 2v2m0 2v2m0 2v2m0 2v2m0 2v2m0 2v2m0 2v2m0 2v2m0 2v2m0 2v2m0 2v2m0 2v2m0 2v2m0 2v2m0 2v2m0 2v2m0 2v2m0 2v2m0 2v2m0 2v2m0 2v2m0 1v2m0 2v2m0 2v2m0 2v2m0 2v2m0 2v2m0 2v2m0 2v2m0 2v2m0 2v2m0 2v2m0 2v2m0 2v2m0 2v2m0 2v2m0 2v2m0 2v2m0 2v2m0 2v2m0 2v2m0 2v2m0 2v2m0 2v2m0 2v2m0 2v2m0 2v2m0 2v2m0 2v2m0 2v2m0 2v2m0 2v2m0 2v2m0 2v2m0 1v2m0 2v2m0 2v2m0 2v2m0 2v2m0 2v2m0 2v2m0 2v2m0 2v2m0 2v2m0 2v2m0 2v2m0 2v2m0 2v2m0 2v2m0 2v2m0 2v2m0 2v2m0 2v2m0 2v2m0 2v2m0 2v2m0 2v2m0 2v2m0 2v2m0 2v2m0 2v2m0 2v2m0 2v2m0 2v2m0 2v2m0 2v2m0 2v2m0 2v2m0 1v2m0 2v2m0 2v2m0 2v2m0 2v2m0 2v2m0 2v2m0 2v2m0 2v2m0 2v2m0 2v2m0 2v2m0 2v1M218.5 47v2m0 2v2m0 2v2m0 2v2m0 2v2m0 2v2m0 2v2m0 2v2m0 2v2m0 2v2m0 2v2m0 2v2m0 2v2m0 2v2m0 2v2m0 2v2m0 2v2m0 2v2m0 2v2m0 2v2m0 2v2m0 2v2m0 2v2m0 2v2m0 2v2m0 2v2m0 2v2m0 2v2m0 1v2m0 2v2m0 2v2m0 2v2m0 2v2m0 2v2m0 2v2m0 2v2m0 2v2m0 2v2m0 2v2m0 2v2m0 2v2m0 2v2m0 2v2m0 2v2m0 2v2m0 2v2m0 2v2m0 2v2m0 2v2m0 2v2m0 2v2m0 2v2m0 2v2m0 2v2m0 2v2m0 2v2m0 2v2m0 2v2m0 2v2m0 2v2m0 2v2m0 1v2m0 2v2m0 2v2m0 2v2m0 2v2m0 2v2m0 2v2m0 2v2m0 2v2m0 2v2m0 2v2m0 2v2m0 2v2m0 2v2m0 2v2m0 2v2m0 2v2m0 2v2m0 2v2m0 2v2m0 2v2m0 2v2m0 2v2m0 2v2m0 2v2m0 2v2m0 2v2m0 2v2m0 2v2m0 2v2m0 2v2m0 2v2m0 2v2m0 2v2m0 1v2m0 2v2m0 2v2m0 2v2m0 2v2m0 2v2m0 2v2m0 2v2m0 2v2m0 2v2m0 2v2m0 2v2m0 2v1M280.5 47v2m0 2v2m0 2v2m0 2v2m0 2v2m0 2v2m0 2v2m0 2v2m0 2v2m0 2v2m0 2v2m0 2v2m0 2v2m0 2v2m0 2v2m0 2v2m0 2v2m0 2v2m0 2v2m0 2v2m0 2v2m0 2v2m0 2v2m0 2v2m0 2v2m0 2v2m0 2v2m0 2v2m0 1v2m0 2v2m0 2v2m0 2v2m0 2v2m0 2v2m0 2v2m0 2v2m0 2v2m0 2v2m0 2v2m0 2v2m0 2v2m0 2v2m0 2v2m0 2v2m0 2v2m0 2v2m0 2v2m0 2v2m0 2v2m0 2v2m0 2v2m0 2v2m0 2v2m0 2v2m0 2v2m0 2v2m0 2v2m0 2v2m0 2v2m0 2v2m0 2v2m0 1v2m0 2v2m0 2v2m0 2v2m0 2v2m0 2v2m0 2v2m0 2v2m0 2v2m0 2v2m0 2v2m0 2v2m0 2v2m0 2v2m0 2v2m0 2v2m0 2v2m0 2v2m0 2v2m0 2v2m0 2v2m0 2v2m0 2v2m0 2v2m0 2v2m0 2v2m0 2v2m0 2v2m0 2v2m0 2v2m0 2v2m0 2v2m0 2v2m0 2v2m0 1v2m0 2v2m0 2v2m0 2v2m0 2v2m0 2v2m0 2v2m0 2v2m0 2v2m0 2v2m0 2v2m0 2v2m0 2v1M292.5 47v2m0 2v2m0 2v2m0 2v2m0 2v2m0 2v2m0 2v2m0 2v2m0 2v2m0 2v2m0 2v2m0 2v2m0 2v2m0 2v2m0 2v2m0 2v2m0 2v2m0 2v2m0 2v2m0 2v2m0 2v2m0 2v2m0 2v2m0 2v2m0 2v2m0 2v2m0 2v2m0 2v2m0 1v2m0 2v2m0 2v2m0 2v2m0 2v2m0 2v2m0 2v2m0 2v2m0 2v2m0 2v2m0 2v2m0 2v2m0 2v2m0 2v2m0 2v2m0 2v2m0 2v2m0 2v2m0 2v2m0 2v2m0 2v2m0 2v2m0 2v2m0 2v2m0 2v2m0 2v2m0 2v2m0 2v2m0 2v2m0 2v2m0 2v2m0 2v2m0 2v2m0 1v2m0 2v2m0 2v2m0 2v2m0 2v2m0 2v2m0 2v2m0 2v2m0 2v2m0 2v2m0 2v2m0 2v2m0 2v2m0 2v2m0 2v2m0 2v2m0 2v2m0 2v2m0 2v2m0 2v2m0 2v2m0 2v2m0 2v2m0 2v2m0 2v2m0 2v2m0 2v2m0 2v2m0 2v2m0 2v2m0 2v2m0 2v2m0 2v2m0 2v2m0 1v2m0 2v2m0 2v2m0 2v2m0 2v2m0 2v2m0 2v2m0 2v2m0 2v2m0 2v2m0 2v2m0 2v2m0 2v1M299.5 47v2m0 2v2m0 2v2m0 2v2m0 2v2m0 2v2m0 2v2m0 2v2m0 2v2m0 2v2m0 2v2m0 2v2m0 2v2m0 2v2m0 2v2m0 2v2m0 2v2m0 2v2m0 2v2m0 2v2m0 2v2m0 2v2m0 2v2m0 2v2m0 2v2m0 2v2m0 2v2m0 2v2m0 1v2m0 2v2m0 2v2m0 2v2m0 2v2m0 2v2m0 2v2m0 2v2m0 2v2m0 2v2m0 2v2m0 2v2m0 2v2m0 2v2m0 2v2m0 2v2m0 2v2m0 2v2m0 2v2m0 2v2m0 2v2m0 2v2m0 2v2m0 2v2m0 2v2m0 2v2m0 2v2m0 2v2m0 2v2m0 2v2m0 2v2m0 2v2m0 2v2m0 1v2m0 2v2m0 2v2m0 2v2m0 2v2m0 2v2m0 2v2m0 2v2m0 2v2m0 2v2m0 2v2m0 2v2m0 2v2m0 2v2m0 2v2m0 2v2m0 2v2m0 2v2m0 2v2m0 2v2m0 2v2m0 2v2m0 2v2m0 2v2m0 2v2m0 2v2m0 2v2m0 2v2m0 2v2m0 2v2m0 2v2m0 2v2m0 2v2m0 2v2m0 1v2m0 2v2m0 2v2m0 2v2m0 2v2m0 2v2m0 2v2m0 2v2m0 2v2m0 2v2m0 2v2m0 2v2m0 2v1M320.5 47v2m0 2v2m0 2v2m0 2v2m0 2v2m0 2v2m0 2v2m0 2v2m0 2v2m0 2v2m0 2v2m0 2v2m0 2v2m0 2v2m0 2v2m0 2v2m0 2v2m0 2v2m0 2v2m0 2v2m0 2v2m0 2v2m0 2v2m0 2v2m0 2v2m0 2v2m0 2v2m0 2v2m0 1v2m0 2v2m0 2v2m0 2v2m0 2v2m0 2v2m0 2v2m0 2v2m0 2v2m0 2v2m0 2v2m0 2v2m0 2v2m0 2v2m0 2v2m0 2v2m0 2v2m0 2v2m0 2v2m0 2v2m0 2v2m0 2v2m0 2v2m0 2v2m0 2v2m0 2v2m0 2v2m0 2v2m0 2v2m0 2v2m0 2v2m0 2v2m0 2v2m0 1v2m0 2v2m0 2v2m0 2v2m0 2v2m0 2v2m0 2v2m0 2v2m0 2v2m0 2v2m0 2v2m0 2v2m0 2v2m0 2v2m0 2v2m0 2v2m0 2v2m0 2v2m0 2v2m0 2v2m0 2v2m0 2v2m0 2v2m0 2v2m0 2v2m0 2v2m0 2v2m0 2v2m0 2v2m0 2v2m0 2v2m0 2v2m0 2v2m0 2v2m0 1v2m0 2v2m0 2v2m0 2v2m0 2v2m0 2v2m0 2v2m0 2v2m0 2v2m0 2v2m0 2v2m0 2v2m0 2v1M410.5 47v2m0 2v2m0 2v2m0 2v2m0 2v2m0 2v2m0 2v2m0 2v2m0 2v2m0 2v2m0 2v2m0 2v2m0 2v2m0 2v2m0 2v2m0 2v2m0 2v2m0 2v2m0 2v2m0 2v2m0 2v2m0 2v2m0 2v2m0 2v2m0 2v2m0 2v2m0 2v2m0 2v2m0 1v2m0 2v2m0 2v2m0 2v2m0 2v2m0 2v2m0 2v2m0 2v2m0 2v2m0 2v2m0 2v2m0 2v2m0 2v2m0 2v2m0 2v2m0 2v2m0 2v2m0 2v2m0 2v2m0 2v2m0 2v2m0 2v2m0 2v2m0 2v2m0 2v2m0 2v2m0 2v2m0 2v2m0 2v2m0 2v2m0 2v2m0 2v2m0 2v2m0 1v2m0 2v2m0 2v2m0 2v2m0 2v2m0 2v2m0 2v2m0 2v2m0 2v2m0 2v2m0 2v2m0 2v2m0 2v2m0 2v2m0 2v2m0 2v2m0 2v2m0 2v2m0 2v2m0 2v2m0 2v2m0 2v2m0 2v2m0 2v2m0 2v2m0 2v2m0 2v2m0 2v2m0 2v2m0 2v2m0 2v2m0 2v2m0 2v2m0 2v2m0 1v2m0 2v2m0 2v2m0 2v2m0 2v2m0 2v2m0 2v2m0 2v2m0 2v2m0 2v2m0 2v2m0 2v2m0 2v1M461.5 47v2m0 2v2m0 2v2m0 2v2m0 2v2m0 2v2m0 2v2m0 2v2m0 2v2m0 2v2m0 2v2m0 2v2m0 2v2m0 2v2m0 2v2m0 2v2m0 2v2m0 2v2m0 2v2m0 2v2m0 2v2m0 2v2m0 2v2m0 2v2m0 2v2m0 2v2m0 2v2m0 2v2m0 1v2m0 2v2m0 2v2m0 2v2m0 2v2m0 2v2m0 2v2m0 2v2m0 2v2m0 2v2m0 2v2m0 2v2m0 2v2m0 2v2m0 2v2m0 2v2m0 2v2m0 2v2m0 2v2m0 2v2m0 2v2m0 2v2m0 2v2m0 2v2m0 2v2m0 2v2m0 2v2m0 2v2m0 2v2m0 2v2m0 2v2m0 2v2m0 2v2m0 1v2m0 2v2m0 2v2m0 2v2m0 2v2m0 2v2m0 2v2m0 2v2m0 2v2m0 2v2m0 2v2m0 2v2m0 2v2m0 2v2m0 2v2m0 2v2m0 2v2m0 2v2m0 2v2m0 2v2m0 2v2m0 2v2m0 2v2m0 2v2m0 2v2m0 2v2m0 2v2m0 2v2m0 2v2m0 2v2m0 2v2m0 2v2m0 2v2m0 2v2m0 1v2m0 2v2m0 2v2m0 2v2m0 2v2m0 2v2m0 2v2m0 2v2m0 2v2m0 2v2m0 2v2m0 2v2m0 2v1M469.5 47v2m0 2v2m0 2v2m0 2v2m0 2v2m0 2v2m0 2v2m0 2v2m0 2v2m0 2v2m0 2v2m0 2v2m0 2v2m0 2v2m0 2v2m0 2v2m0 2v2m0 2v2m0 2v2m0 2v2m0 2v2m0 2v2m0 2v2m0 2v2m0 2v2m0 2v2m0 2v2m0 2v2m0 1v2m0 2v2m0 2v2m0 2v2m0 2v2m0 2v2m0 2v2m0 2v2m0 2v2m0 2v2m0 2v2m0 2v2m0 2v2m0 2v2m0 2v2m0 2v2m0 2v2m0 2v2m0 2v2m0 2v2m0 2v2m0 2v2m0 2v2m0 2v2m0 2v2m0 2v2m0 2v2m0 2v2m0 2v2m0 2v2m0 2v2m0 2v2m0 2v2m0 1v2m0 2v2m0 2v2m0 2v2m0 2v2m0 2v2m0 2v2m0 2v2m0 2v2m0 2v2m0 2v2m0 2v2m0 2v2m0 2v2m0 2v2m0 2v2m0 2v2m0 2v2m0 2v2m0 2v2m0 2v2m0 2v2m0 2v2m0 2v2m0 2v2m0 2v2m0 2v2m0 2v2m0 2v2m0 2v2m0 2v2m0 2v2m0 2v2m0 2v2m0 1v2m0 2v2m0 2v2m0 2v2m0 2v2m0 2v2m0 2v2m0 2v2m0 2v2m0 2v2m0 2v2m0 2v2m0 2v1M492.5 47v2m0 2v2m0 2v2m0 2v2m0 2v2m0 2v2m0 2v2m0 2v2m0 2v2m0 2v2m0 2v2m0 2v2m0 2v2m0 2v2m0 2v2m0 2v2m0 2v2m0 2v2m0 2v2m0 2v2m0 2v2m0 2v2m0 2v2m0 2v2m0 2v2m0 2v2m0 2v2m0 2v2m0 1v2m0 2v2m0 2v2m0 2v2m0 2v2m0 2v2m0 2v2m0 2v2m0 2v2m0 2v2m0 2v2m0 2v2m0 2v2m0 2v2m0 2v2m0 2v2m0 2v2m0 2v2m0 2v2m0 2v2m0 2v2m0 2v2m0 2v2m0 2v2m0 2v2m0 2v2m0 2v2m0 2v2m0 2v2m0 2v2m0 2v2m0 2v2m0 2v2m0 1v2m0 2v2m0 2v2m0 2v2m0 2v2m0 2v2m0 2v2m0 2v2m0 2v2m0 2v2m0 2v2m0 2v2m0 2v2m0 2v2m0 2v2m0 2v2m0 2v2m0 2v2m0 2v2m0 2v2m0 2v2m0 2v2m0 2v2m0 2v2m0 2v2m0 2v2m0 2v2m0 2v2m0 2v2m0 2v2m0 2v2m0 2v2m0 2v2m0 2v2m0 1v2m0 2v2m0 2v2m0 2v2m0 2v2m0 2v2m0 2v2m0 2v2m0 2v2m0 2v2m0 2v2m0 2v2m0 2v1M494.5 47v2m0 2v2m0 2v2m0 2v2m0 2v2m0 2v2m0 2v2m0 2v2m0 2v2m0 2v2m0 2v2m0 2v2m0 2v2m0 2v2m0 2v2m0 2v2m0 2v2m0 2v2m0 2v2m0 2v2m0 2v2m0 2v2m0 2v2m0 2v2m0 2v2m0 2v2m0 2v2m0 2v2m0 1v2m0 2v2m0 2v2m0 2v2m0 2v2m0 2v2m0 2v2m0 2v2m0 2v2m0 2v2m0 2v2m0 2v2m0 2v2m0 2v2m0 2v2m0 2v2m0 2v2m0 2v2m0 2v2m0 2v2m0 2v2m0 2v2m0 2v2m0 2v2m0 2v2m0 2v2m0 2v2m0 2v2m0 2v2m0 2v2m0 2v2m0 2v2m0 2v2m0 1v2m0 2v2m0 2v2m0 2v2m0 2v2m0 2v2m0 2v2m0 2v2m0 2v2m0 2v2m0 2v2m0 2v2m0 2v2m0 2v2m0 2v2m0 2v2m0 2v2m0 2v2m0 2v2m0 2v2m0 2v2m0 2v2m0 2v2m0 2v2m0 2v2m0 2v2m0 2v2m0 2v2m0 2v2m0 2v2m0 2v2m0 2v2m0 2v2m0 2v2m0 1v2m0 2v2m0 2v2m0 2v2m0 2v2m0 2v2m0 2v2m0 2v2m0 2v2m0 2v2m0 2v2m0 2v2m0 2v1M496.5 47v2m0 2v2m0 2v2m0 2v2m0 2v2m0 2v2m0 2v2m0 2v2m0 2v2m0 2v2m0 2v2m0 2v2m0 2v2m0 2v2m0 2v2m0 2v2m0 2v2m0 2v2m0 2v2m0 2v2m0 2v2m0 2v2m0 2v2m0 2v2m0 2v2m0 2v2m0 2v2m0 2v2m0 1v2m0 2v2m0 2v2m0 2v2m0 2v2m0 2v2m0 2v2m0 2v2m0 2v2m0 2v2m0 2v2m0 2v2m0 2v2m0 2v2m0 2v2m0 2v2m0 2v2m0 2v2m0 2v2m0 2v2m0 2v2m0 2v2m0 2v2m0 2v2m0 2v2m0 2v2m0 2v2m0 2v2m0 2v2m0 2v2m0 2v2m0 2v2m0 2v2m0 1v2m0 2v2m0 2v2m0 2v2m0 2v2m0 2v2m0 2v2m0 2v2m0 2v2m0 2v2m0 2v2m0 2v2m0 2v2m0 2v2m0 2v2m0 2v2m0 2v2m0 2v2m0 2v2m0 2v2m0 2v2m0 2v2m0 2v2m0 2v2m0 2v2m0 2v2m0 2v2m0 2v2m0 2v2m0 2v2m0 2v2m0 2v2m0 2v2m0 2v2m0 1v2m0 2v2m0 2v2m0 2v2m0 2v2m0 2v2m0 2v2m0 2v2m0 2v2m0 2v2m0 2v2m0 2v2m0 2v1M512.5 47v2m0 2v2m0 2v2m0 2v2m0 2v2m0 2v2m0 2v2m0 2v2m0 2v2m0 2v2m0 2v2m0 2v2m0 2v2m0 2v2m0 2v2m0 2v2m0 2v2m0 2v2m0 2v2m0 2v2m0 2v2m0 2v2m0 2v2m0 2v2m0 2v2m0 2v2m0 2v2m0 2v2m0 1v2m0 2v2m0 2v2m0 2v2m0 2v2m0 2v2m0 2v2m0 2v2m0 2v2m0 2v2m0 2v2m0 2v2m0 2v2m0 2v2m0 2v2m0 2v2m0 2v2m0 2v2m0 2v2m0 2v2m0 2v2m0 2v2m0 2v2m0 2v2m0 2v2m0 2v2m0 2v2m0 2v2m0 2v2m0 2v2m0 2v2m0 2v2m0 2v2m0 1v2m0 2v2m0 2v2m0 2v2m0 2v2m0 2v2m0 2v2m0 2v2m0 2v2m0 2v2m0 2v2m0 2v2m0 2v2m0 2v2m0 2v2m0 2v2m0 2v2m0 2v2m0 2v2m0 2v2m0 2v2m0 2v2m0 2v2m0 2v2m0 2v2m0 2v2m0 2v2m0 2v2m0 2v2m0 2v2m0 2v2m0 2v2m0 2v2m0 2v2m0 1v2m0 2v2m0 2v2m0 2v2m0 2v2m0 2v2m0 2v2m0 2v2m0 2v2m0 2v2m0 2v2m0 2v2m0 2v1M513.5 47v2m0 2v2m0 2v2m0 2v2m0 2v2m0 2v2m0 2v2m0 2v2m0 2v2m0 2v2m0 2v2m0 2v2m0 2v2m0 2v2m0 2v2m0 2v2m0 2v2m0 2v2m0 2v2m0 2v2m0 2v2m0 2v2m0 2v2m0 2v2m0 2v2m0 2v2m0 2v2m0 2v2m0 1v2m0 2v2m0 2v2m0 2v2m0 2v2m0 2v2m0 2v2m0 2v2m0 2v2m0 2v2m0 2v2m0 2v2m0 2v2m0 2v2m0 2v2m0 2v2m0 2v2m0 2v2m0 2v2m0 2v2m0 2v2m0 2v2m0 2v2m0 2v2m0 2v2m0 2v2m0 2v2m0 2v2m0 2v2m0 2v2m0 2v2m0 2v2m0 2v2m0 1v2m0 2v2m0 2v2m0 2v2m0 2v2m0 2v2m0 2v2m0 2v2m0 2v2m0 2v2m0 2v2m0 2v2m0 2v2m0 2v2m0 2v2m0 2v2m0 2v2m0 2v2m0 2v2m0 2v2m0 2v2m0 2v2m0 2v2m0 2v2m0 2v2m0 2v2m0 2v2m0 2v2m0 2v2m0 2v2m0 2v2m0 2v2m0 2v2m0 2v2m0 1v2m0 2v2m0 2v2m0 2v2m0 2v2m0 2v2m0 2v2m0 2v2m0 2v2m0 2v2m0 2v2m0 2v2m0 2v1M515.5 47v2m0 2v2m0 2v2m0 2v2m0 2v2m0 2v2m0 2v2m0 2v2m0 2v2m0 2v2m0 2v2m0 2v2m0 2v2m0 2v2m0 2v2m0 2v2m0 2v2m0 2v2m0 2v2m0 2v2m0 2v2m0 2v2m0 2v2m0 2v2m0 2v2m0 2v2m0 2v2m0 2v2m0 1v2m0 2v2m0 2v2m0 2v2m0 2v2m0 2v2m0 2v2m0 2v2m0 2v2m0 2v2m0 2v2m0 2v2m0 2v2m0 2v2m0 2v2m0 2v2m0 2v2m0 2v2m0 2v2m0 2v2m0 2v2m0 2v2m0 2v2m0 2v2m0 2v2m0 2v2m0 2v2m0 2v2m0 2v2m0 2v2m0 2v2m0 2v2m0 2v2m0 1v2m0 2v2m0 2v2m0 2v2m0 2v2m0 2v2m0 2v2m0 2v2m0 2v2m0 2v2m0 2v2m0 2v2m0 2v2m0 2v2m0 2v2m0 2v2m0 2v2m0 2v2m0 2v2m0 2v2m0 2v2m0 2v2m0 2v2m0 2v2m0 2v2m0 2v2m0 2v2m0 2v2m0 2v2m0 2v2m0 2v2m0 2v2m0 2v2m0 2v2m0 1v2m0 2v2m0 2v2m0 2v2m0 2v2m0 2v2m0 2v2m0 2v2m0 2v2m0 2v2m0 2v2m0 2v2m0 2v1M736.5 47v2m0 2v2m0 2v2m0 2v2m0 2v2m0 2v2m0 2v2m0 2v2m0 2v2m0 2v2m0 2v2m0 2v2m0 2v2m0 2v2m0 2v2m0 2v2m0 2v2m0 2v2m0 2v2m0 2v2m0 2v2m0 2v2m0 2v2m0 2v2m0 2v2m0 2v2m0 2v2m0 2v2m0 1v2m0 2v2m0 2v2m0 2v2m0 2v2m0 2v2m0 2v2m0 2v2m0 2v2m0 2v2m0 2v2m0 2v2m0 2v2m0 2v2m0 2v2m0 2v2m0 2v2m0 2v2m0 2v2m0 2v2m0 2v2m0 2v2m0 2v2m0 2v2m0 2v2m0 2v2m0 2v2m0 2v2m0 2v2m0 2v2m0 2v2m0 2v2m0 2v2m0 1v2m0 2v2m0 2v2m0 2v2m0 2v2m0 2v2m0 2v2m0 2v2m0 2v2m0 2v2m0 2v2m0 2v2m0 2v2m0 2v2m0 2v2m0 2v2m0 2v2m0 2v2m0 2v2m0 2v2m0 2v2m0 2v2m0 2v2m0 2v2m0 2v2m0 2v2m0 2v2m0 2v2m0 2v2m0 2v2m0 2v2m0 2v2m0 2v2m0 2v2m0 1v2m0 2v2m0 2v2m0 2v2m0 2v2m0 2v2m0 2v2m0 2v2m0 2v2m0 2v2m0 2v2m0 2v2m0 2v1M742.5 47v2m0 2v2m0 2v2m0 2v2m0 2v2m0 2v2m0 2v2m0 2v2m0 2v2m0 2v2m0 2v2m0 2v2m0 2v2m0 2v2m0 2v2m0 2v2m0 2v2m0 2v2m0 2v2m0 2v2m0 2v2m0 2v2m0 2v2m0 2v2m0 2v2m0 2v2m0 2v2m0 2v2m0 1v2m0 2v2m0 2v2m0 2v2m0 2v2m0 2v2m0 2v2m0 2v2m0 2v2m0 2v2m0 2v2m0 2v2m0 2v2m0 2v2m0 2v2m0 2v2m0 2v2m0 2v2m0 2v2m0 2v2m0 2v2m0 2v2m0 2v2m0 2v2m0 2v2m0 2v2m0 2v2m0 2v2m0 2v2m0 2v2m0 2v2m0 2v2m0 2v2m0 1v2m0 2v2m0 2v2m0 2v2m0 2v2m0 2v2m0 2v2m0 2v2m0 2v2m0 2v2m0 2v2m0 2v2m0 2v2m0 2v2m0 2v2m0 2v2m0 2v2m0 2v2m0 2v2m0 2v2m0 2v2m0 2v2m0 2v2m0 2v2m0 2v2m0 2v2m0 2v2m0 2v2m0 2v2m0 2v2m0 2v2m0 2v2m0 2v2m0 2v2m0 1v2m0 2v2m0 2v2m0 2v2m0 2v2m0 2v2m0 2v2m0 2v2m0 2v2m0 2v2m0 2v2m0 2v2m0 2v1M757.5 47v2m0 2v2m0 2v2m0 2v2m0 2v2m0 2v2m0 2v2m0 2v2m0 2v2m0 2v2m0 2v2m0 2v2m0 2v2m0 2v2m0 2v2m0 2v2m0 2v2m0 2v2m0 2v2m0 2v2m0 2v2m0 2v2m0 2v2m0 2v2m0 2v2m0 2v2m0 2v2m0 2v2m0 1v2m0 2v2m0 2v2m0 2v2m0 2v2m0 2v2m0 2v2m0 2v2m0 2v2m0 2v2m0 2v2m0 2v2m0 2v2m0 2v2m0 2v2m0 2v2m0 2v2m0 2v2m0 2v2m0 2v2m0 2v2m0 2v2m0 2v2m0 2v2m0 2v2m0 2v2m0 2v2m0 2v2m0 2v2m0 2v2m0 2v2m0 2v2m0 2v2m0 1v2m0 2v2m0 2v2m0 2v2m0 2v2m0 2v2m0 2v2m0 2v2m0 2v2m0 2v2m0 2v2m0 2v2m0 2v2m0 2v2m0 2v2m0 2v2m0 2v2m0 2v2m0 2v2m0 2v2m0 2v2m0 2v2m0 2v2m0 2v2m0 2v2m0 2v2m0 2v2m0 2v2m0 2v2m0 2v2m0 2v2m0 2v2m0 2v2m0 2v2m0 1v2m0 2v2m0 2v2m0 2v2m0 2v2m0 2v2m0 2v2m0 2v2m0 2v2m0 2v2m0 2v2m0 2v2m0 2v1" fill="none" stroke="#ad1f1f" stroke-width="1"/></svg></body></html>
